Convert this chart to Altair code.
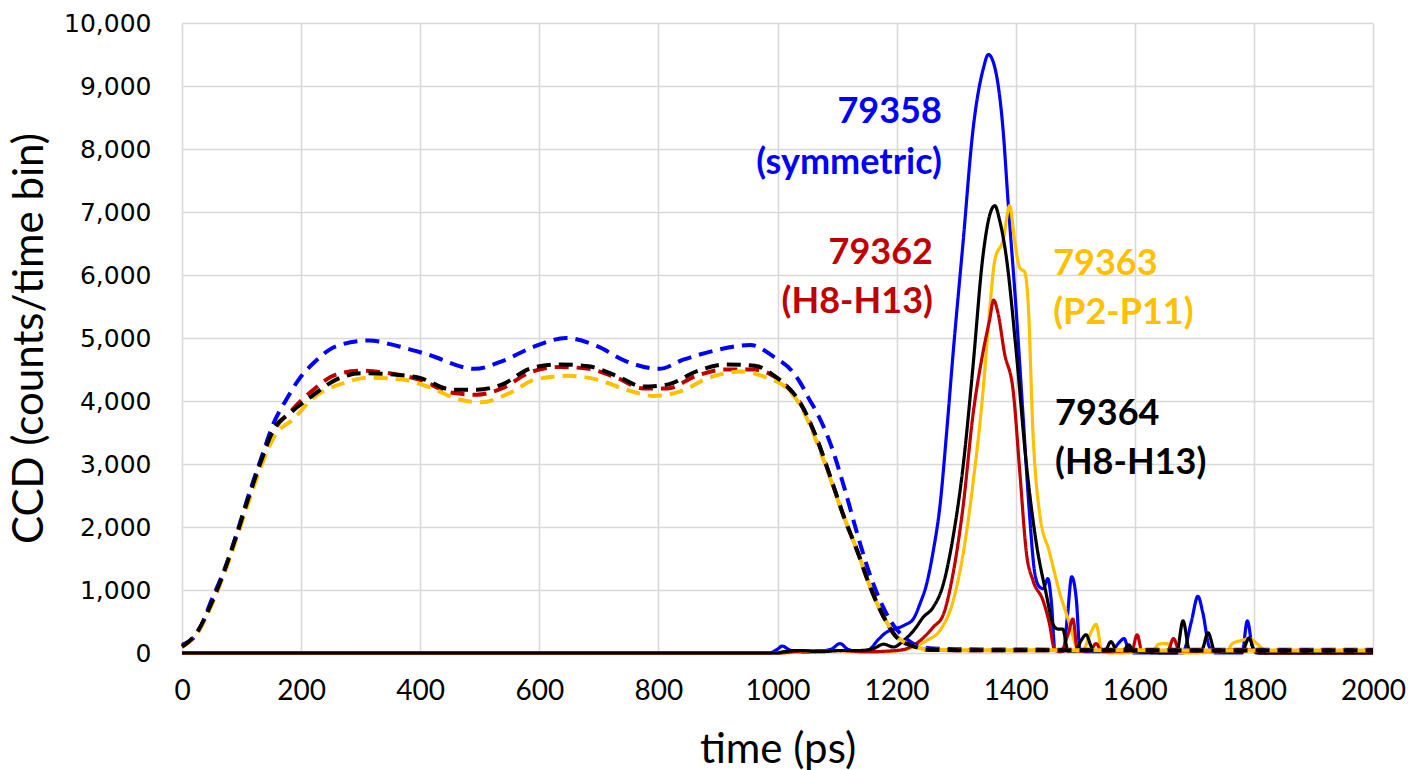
import altair as alt
import pandas as pd

# ---------------- data ----------------
# dashed curves (laser pulse shapes)
blue_dash_t = [0, 26, 50, 71, 92, 113, 134, 154, 175, 196, 224, 259, 314, 363, 412, 492, 537, 593, 645, 697, 746, 801, 843, 899, 954, 994, 1024, 1039, 1052, 1067, 1089, 1112, 1134, 1151, 1168, 1190, 1218, 1251, 1300, 1400, 1600, 1800, 2000]
blue_dash_v = [130, 317, 850, 1320, 1900, 2540, 3120, 3650, 4020, 4340, 4630, 4870, 4960, 4870, 4740, 4510, 4630, 4870, 5000, 4870, 4630, 4510, 4660, 4810, 4890, 4700, 4480, 4280, 4050, 3800, 3320, 2630, 1890, 1360, 930, 505, 210, 80, 60, 55, 50, 50, 50]

black_dash_t = [0, 26, 50, 71, 92, 113, 134, 154, 182, 217, 259, 300, 356, 398, 454, 495, 537, 586, 634, 683, 732, 774, 815, 864, 913, 962, 996, 1011, 1039, 1067, 1089, 1112, 1134, 1156, 1179, 1201, 1229, 1251, 1300, 2000]
black_dash_v = [100, 340, 800, 1300, 1880, 2500, 3080, 3550, 3810, 4070, 4340, 4440, 4420, 4370, 4180, 4180, 4260, 4520, 4580, 4550, 4390, 4230, 4260, 4470, 4580, 4560, 4390, 4280, 3960, 3380, 2790, 2150, 1620, 1040, 560, 240, 106, 53, 45, 40]

red_dash_t = [0, 26, 50, 71, 92, 113, 134, 154, 182, 217, 259, 300, 356, 398, 454, 495, 537, 586, 634, 683, 732, 774, 815, 864, 913, 962, 996, 1011, 1039, 1067, 1089, 1112, 1134, 1156, 1179, 1201, 1229, 1251, 1300, 2000]
red_dash_v = [100, 330, 790, 1290, 1870, 2480, 3050, 3520, 3830, 4150, 4420, 4480, 4430, 4340, 4130, 4100, 4200, 4460, 4540, 4510, 4360, 4200, 4200, 4400, 4500, 4500, 4380, 4270, 3950, 3370, 2780, 2150, 1620, 1040, 560, 240, 106, 53, 45, 40]

yellow_dash_t = [0, 26, 50, 71, 92, 113, 134, 154, 189, 217, 273, 314, 370, 412, 467, 502, 551, 593, 648, 697, 746, 794, 836, 885, 940, 982, 1011, 1039, 1067, 1089, 1112, 1134, 1156, 1179, 1201, 1229, 1251, 1300, 2000]
yellow_dash_v = [100, 320, 770, 1260, 1830, 2430, 2990, 3420, 3730, 4020, 4290, 4370, 4340, 4230, 4020, 3980, 4130, 4340, 4400, 4340, 4180, 4080, 4150, 4370, 4470, 4370, 4240, 3920, 3320, 2760, 2150, 1620, 1040, 560, 260, 110, 55, 45, 40]

# solid curves (x-ray signal)
blue_t = [0, 985, 1000, 1008, 1020, 1040, 1060, 1090, 1105, 1118, 1140, 1155, 1168, 1183, 1200, 1215, 1228, 1240, 1250, 1261, 1273, 1284, 1295, 1312, 1328, 1346, 1354, 1365, 1379, 1387, 1401, 1412, 1423, 1432, 1440, 1446, 1454, 1460, 1466, 1480, 1487, 1494, 1502, 1508, 1520, 1560, 1575, 1582, 1590, 1600, 1680, 1695, 1706, 1714, 1725, 1735, 1780, 1789, 1797, 1805, 2000]
blue_v = [0, 0, 60, 110, 50, 10, 20, 60, 150, 60, 20, 60, 200, 330, 390, 450, 540, 800, 1080, 1590, 2350, 3500, 4770, 6560, 8280, 9290, 9500, 9290, 8280, 7190, 5410, 3820, 2230, 1270, 1050, 1020, 1180, 800, 40, 30, 600, 1210, 830, 40, 20, 30, 180, 230, 40, 0, 0, 500, 900, 650, 100, 0, 0, 510, 120, 0, 0]

red_t = [0, 1000, 1040, 1100, 1150, 1200, 1217, 1240, 1262, 1278, 1295, 1312, 1328, 1345, 1356, 1363, 1370, 1381, 1396, 1407, 1418, 1429, 1446, 1457, 1465, 1475, 1488, 1496, 1504, 1525, 1535, 1545, 1595, 1604, 1612, 1655, 1665, 1675, 1800, 1810, 2000]
red_v = [0, 0, 30, 40, 20, 40, 70, 200, 415, 600, 1270, 2350, 3760, 4770, 5280, 5600, 5410, 4770, 4140, 2860, 1590, 1150, 830, 450, 60, 20, 300, 540, 30, 40, 150, 20, 40, 290, 30, 30, 230, 30, 50, 0, 0]

yellow_t = [0, 1000, 1050, 1100, 1150, 1206, 1228, 1251, 1273, 1295, 1312, 1328, 1345, 1356, 1365, 1379, 1390, 1398, 1407, 1415, 1421, 1429, 1440, 1457, 1474, 1491, 1502, 1512, 1525, 1535, 1545, 1560, 1630, 1640, 1655, 1665, 1680, 1755, 1764, 1780, 1792, 1805, 1814, 1825, 1830, 2000]
yellow_v = [0, 0, 20, 40, 10, 40, 95, 200, 360, 830, 1590, 2670, 4140, 5410, 6240, 6560, 7100, 6560, 6110, 6050, 5540, 3500, 2230, 1590, 950, 450, 100, 30, 300, 455, 30, 0, 30, 140, 150, 40, 0, 30, 150, 200, 230, 150, 70, 20, 0, 0]

black_t = [0, 1000, 1010, 1038, 1070, 1111, 1139, 1161, 1178, 1195, 1212, 1229, 1245, 1261, 1278, 1295, 1312, 1328, 1345, 1356, 1365, 1373, 1384, 1401, 1418, 1435, 1451, 1463, 1471, 1479, 1488, 1500, 1510, 1518, 1527, 1532, 1550, 1560, 1570, 1582, 1590, 1598, 1670, 1681, 1692, 1712, 1723, 1735, 1780, 1792, 1800, 1810, 2000]
black_v = [0, 0, 20, 40, 20, 40, 40, 70, 140, 95, 200, 360, 570, 720, 1080, 1850, 2990, 4520, 6300, 6940, 7100, 6870, 6300, 4770, 2990, 1720, 950, 450, 380, 380, 30, 30, 200, 290, 100, 30, 40, 180, 40, 50, 130, 20, 0, 510, 40, 40, 320, 20, 20, 240, 50, 0, 0]

# annotations
label_text = ["79358", "(symmetric)", "79362", "(H8-H13)", "79363", "(P2-P11)", "79364", "(H8-H13)"]
label_t = [1276, 1276, 1261, 1261, 1463, 1463, 1466, 1466]
label_v = [8590, 7770, 6350, 5570, 6180, 5400, 3800, 3010]
label_side = ["right", "right", "right", "right", "left", "left", "left", "left"]
label_color = ["#0000FF", "#0000FF", "#C00000", "#C00000", "#FFC000", "#FFC000", "#000000", "#000000"]

x_ticks = list(range(0, 2001, 200))
y_ticks = list(range(0, 10001, 1000))

# ---------------- chart ----------------
X = alt.X("t:Q", scale=alt.Scale(domain=[0, 2000], nice=False),
          axis=alt.Axis(values=x_ticks, format="d", title="time (ps)",
                        grid=True, gridColor="#d9d9d9", gridWidth=1.6,
                        domain=False, ticks=False, labelPadding=24,
                        labelFlush=False, labelOverlap=False,
                        labelFont="Lato, sans-serif",
                        labelFontSize=28, labelColor="#000000",
                        titleFont="Lato, sans-serif", titleFontSize=42,
                        titleFontWeight="normal", titleColor="#000000",
                        titleY=96, titleBaseline="middle"))
Y = alt.Y("v:Q", scale=alt.Scale(domain=[0, 10000], nice=False),
          axis=alt.Axis(values=y_ticks, format=",d", title="CCD (counts/time bin)",
                        grid=True, gridColor="#d9d9d9", gridWidth=1.6,
                        domain=False, ticks=False, labelPadding=31,
                        labelFlush=False, labelOverlap=False,
                        labelFont="DejaVu Sans, Verdana, sans-serif",
                        labelFontSize=25, labelColor="#000000",
                        titleFont="Lato, sans-serif", titleFontSize=42,
                        titleFontWeight="normal", titleColor="#000000",
                        titleX=-153, titleBaseline="middle"))


def line_layer(ts, vs, color, dashed):
    df = pd.DataFrame({"t": ts, "v": vs})
    return alt.Chart(df).mark_line(
        color=color, interpolate="monotone",
        strokeWidth=4 if dashed else 3.2,
        strokeDash=[14, 8] if dashed else [1, 0],
    ).encode(x=X, y=Y)


layers = [
    line_layer(blue_t, blue_v, "#0000FF", False),
    line_layer(yellow_t, yellow_v, "#FFC000", False),
    line_layer(red_t, red_v, "#C00000", False),
    line_layer(black_t, black_v, "#000000", False),
    line_layer(blue_dash_t, blue_dash_v, "#0000FF", True),
    line_layer(red_dash_t, red_dash_v, "#C00000", True),
    line_layer(yellow_dash_t, yellow_dash_v, "#FFC000", True),
    line_layer(black_dash_t, black_dash_v, "#000000", True),
]

ann = pd.DataFrame({"text": label_text, "t": label_t, "v": label_v,
                    "side": label_side, "color": label_color})
for side in ["right", "left"]:
    layers.append(
        alt.Chart(ann[ann["side"] == side]).mark_text(
            align=side, baseline="middle", font="Lato, sans-serif",
            fontSize=36, fontWeight="bold"
        ).encode(x=X, y=Y, text="text:N", color=alt.Color("color:N", scale=None))
    )

chart = alt.layer(*layers).properties(
    width=1191, height=630,
    autosize=alt.AutoSizeParams(type="none"),
    padding={"left": 182, "top": 23, "right": 35, "bottom": 117},
    background="#ffffff",
).configure_view(stroke=None)

chart.save("out.html", embed_options={"renderer": "svg", "actions": False})
